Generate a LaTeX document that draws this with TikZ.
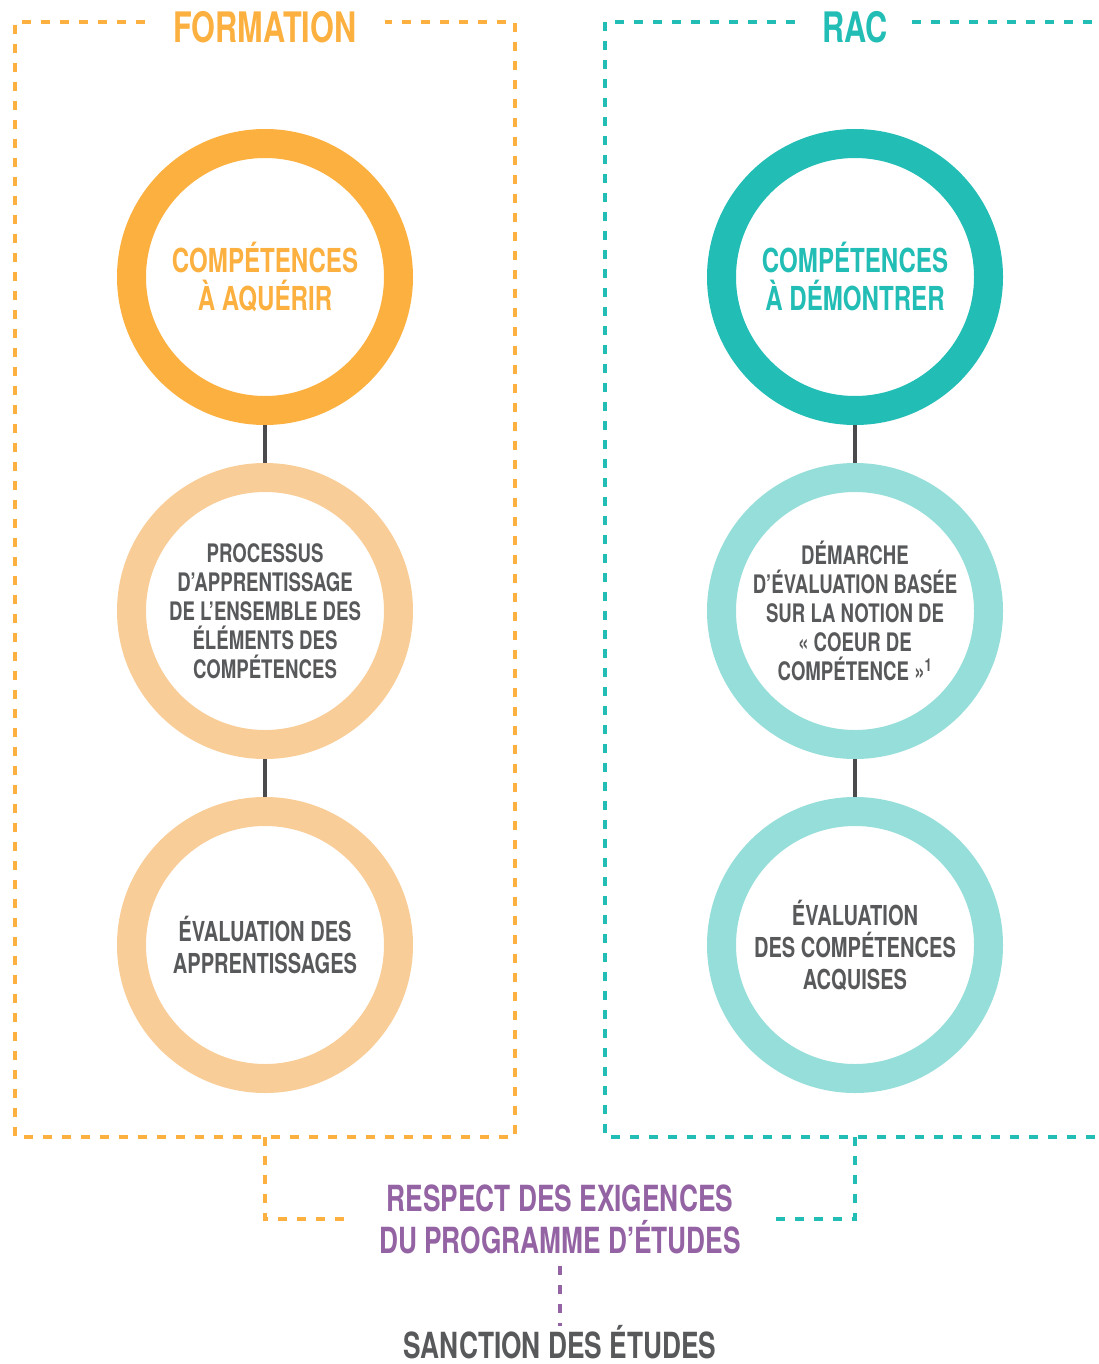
\documentclass[tikz,border=0pt]{standalone}
\usepackage{fontspec}
\setmainfont{TeX Gyre Heros}[FakeStretch=0.73]
\definecolor{orA}{HTML}{FBB040}
\definecolor{orB}{HTML}{F9CD98}
\definecolor{teA}{HTML}{22BDB5}
\definecolor{teB}{HTML}{96DED9}
\definecolor{grT}{HTML}{58595B}
\definecolor{grL}{HTML}{4A4A4C}
\definecolor{puT}{HTML}{9463A3}
\begin{document}
\begin{tikzpicture}[x=1pt,y=-1pt,
  ring/.style={circle,minimum size=267pt,inner sep=0pt,line width=29pt,align=center},
  bigtxt/.style={font=\fontsize{33}{38}\selectfont\bfseries},
  midtxt/.style={font=\fontsize{25.5}{29}\selectfont\bfseries,text=grT},
  lowtxt/.style={font=\fontsize{27.5}{32}\selectfont\bfseries,text=grT},
  title/.style={font=\fontsize{42}{42}\selectfont\bfseries,inner sep=0pt},
  boxline/.style={line width=4pt,dash pattern=on 9pt off 10pt},
  link/.style={draw=grL,line width=4pt},
  foot/.style={font=\fontsize{36}{42}\selectfont\bfseries,align=center,inner sep=0pt}]
\useasboundingbox (0,0) rectangle (1098,1364);
% titles
\node[title,text=orA,anchor=base] (tform) at (265,43) {FORMATION};
\node[title,text=teA,anchor=base] (trac) at (855,43) {RAC};
% boxes
\draw[boxline,draw=orA] (145,22) -- (15,22) -- (15,1137) -- (515,1137) -- (515,22) -- (385,22);
\draw[boxline,draw=teA] (795,22) -- (605,22) -- (605,1137) -- (1104,1137);
\draw[boxline,draw=teA] (912,22) -- (1104,22);
% circles
\node[ring,draw=orA,bigtxt,text=orA] (l1) at (265,277) {COMPÉTENCES\\À AQUÉRIR};
\node[ring,draw=orB,midtxt] (l2) at (265,611) {PROCESSUS\\D’APPRENTISSAGE\\DE L’ENSEMBLE DES\\ÉLÉMENTS DES\\COMPÉTENCES};
\node[ring,draw=orB,lowtxt] (l3) at (265,945) {ÉVALUATION DES\\APPRENTISSAGES};
\node[ring,draw=teA,bigtxt,text=teA] (r1) at (855,277) {COMPÉTENCES\\À DÉMONTRER};
\node[ring,draw=teB,midtxt] (r2) at (855,611) {DÉMARCHE\\D’ÉVALUATION BASÉE\\SUR LA NOTION DE\\« COEUR DE\\COMPÉTENCE »\textsuperscript{1}};
\node[ring,draw=teB,lowtxt] (r3) at (855,945) {ÉVALUATION\\DES COMPÉTENCES\\ACQUISES};
% links
\draw[link] (l1.south) -- (l2.north);
\draw[link] (l2.south) -- (l3.north);
\draw[link] (r1.south) -- (r2.north);
\draw[link] (r2.south) -- (r3.north);
% bottom
\node[foot,text=puT] (resp) at (560,1219) {RESPECT DES EXIGENCES\\DU PROGRAMME D’ÉTUDES};
\node[foot,text=grT,anchor=base] (sanc) at (560,1358) {SANCTION DES ÉTUDES};
\coordinate (lb) at (265,1137);
\coordinate (rb) at (855,1137);
\coordinate (le) at (348,1219);
\coordinate (re) at (773,1219);
\draw[boxline,draw=orA] (lb) |- (le);
\draw[boxline,draw=teA] (rb) |- (re);
\coordinate (pt) at (560,1266);
\coordinate (pb) at (560,1326);
\draw[boxline,draw=puT] (pt) -- (pb);
\end{tikzpicture}
\end{document}
